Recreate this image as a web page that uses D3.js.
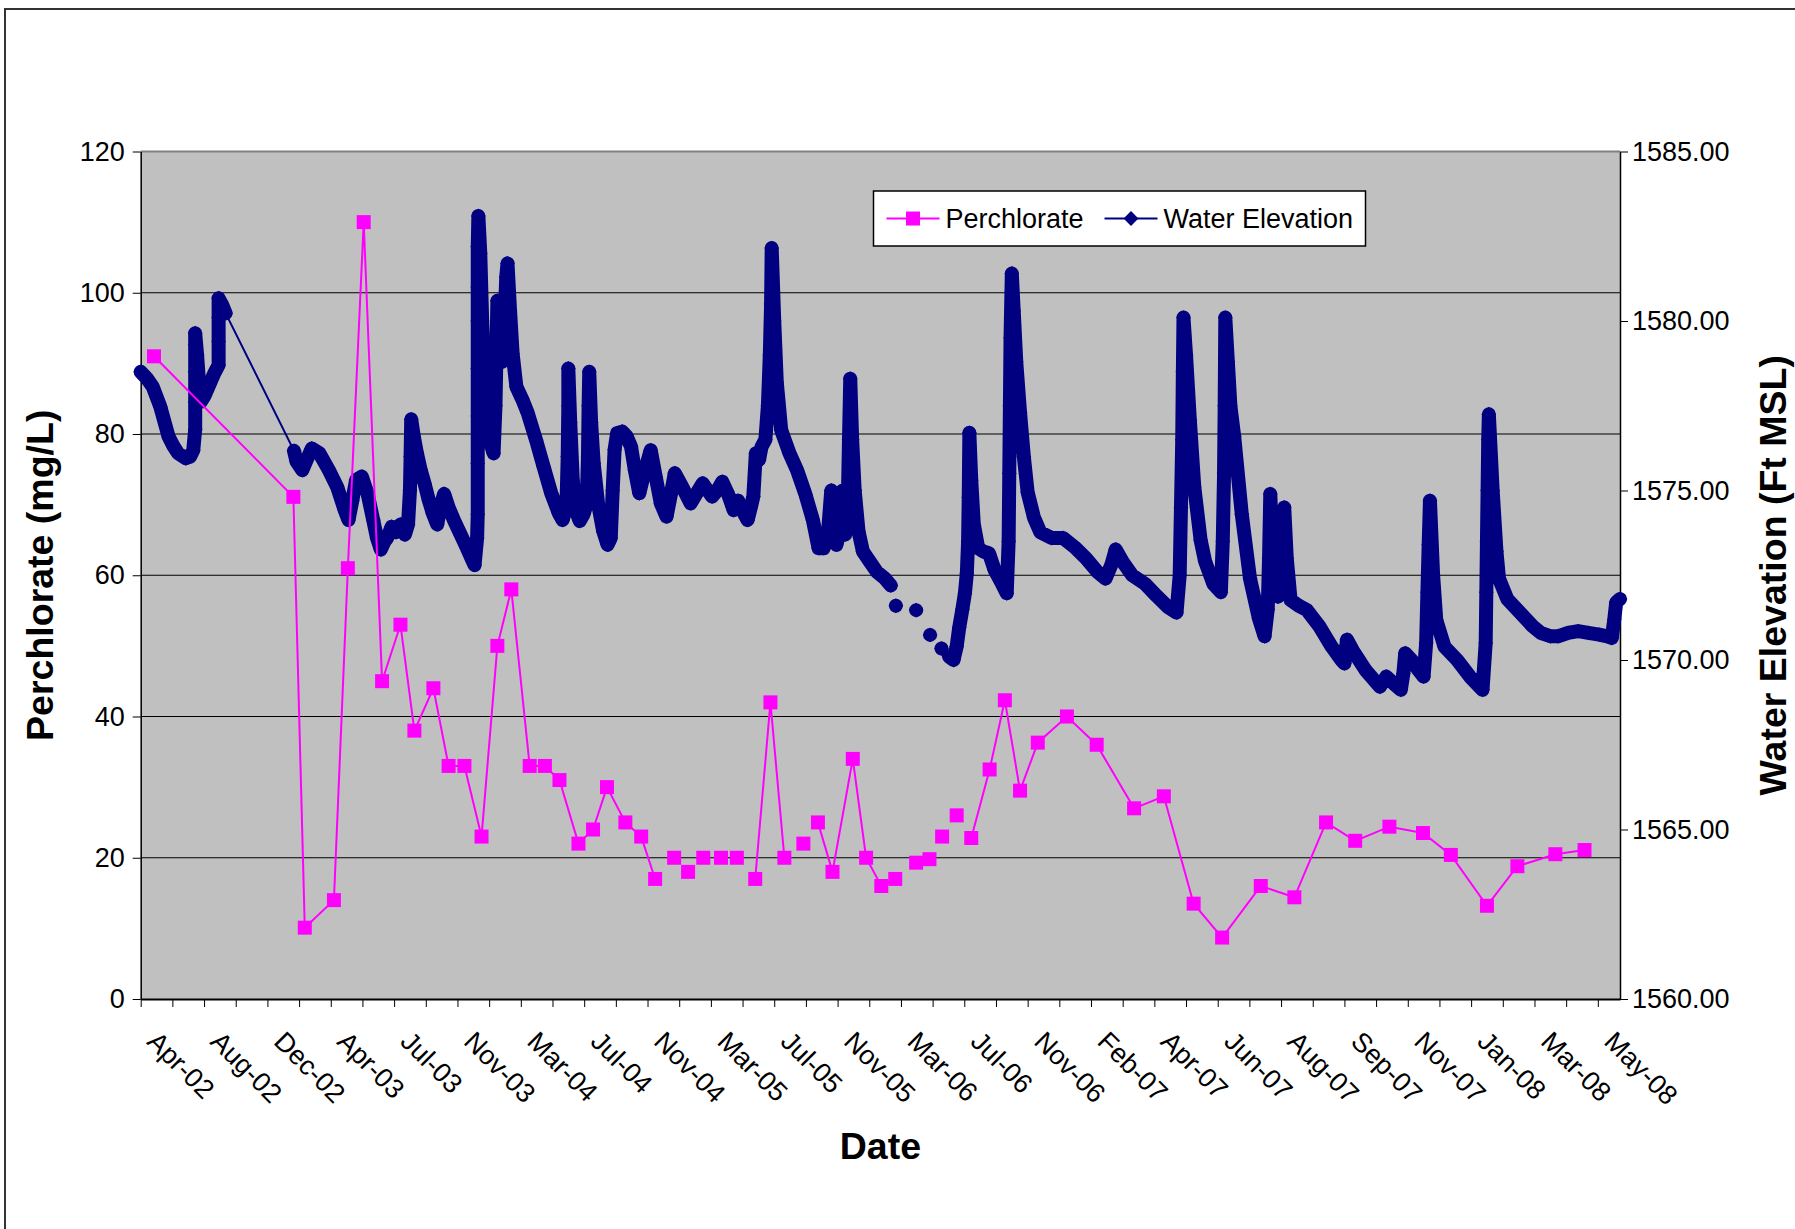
<!DOCTYPE html>
<html lang="en">
<head>
<meta charset="UTF-8" />
<title>Perchlorate and Water Elevation</title>
<script src="https://d3js.org/d3.v7.min.js"></script>
<style>
  body { margin: 0; background: #fff; }
  text { font-family: "Liberation Sans", Arial, sans-serif; }
  .tick text { font-size: 27px; fill: #000; }
  .axis path, .axis line { stroke: #000; }
</style>
</head>
<body>
<script>
// x positions are in label units: 0 = "Apr-02", 1 = "Aug-02", ... (labels sit on every second tick)
const xLabels = ["Apr-02", "Aug-02", "Dec-02", "Apr-03", "Jul-03", "Nov-03", "Mar-04", "Jul-04",
  "Nov-04", "Mar-05", "Jul-05", "Nov-05", "Mar-06", "Jul-06", "Nov-06", "Feb-07", "Apr-07",
  "Jun-07", "Aug-07", "Sep-07", "Nov-07", "Jan-08", "Mar-08", "May-08"];
const xEnd = 23.35;

const leftTicks = [0, 20, 40, 60, 80, 100, 120];
const rightTicks = [1560, 1565, 1570, 1575, 1580, 1585];

// perchlorate (mg/L), null = gap in the line
const perchlorate = [
  [0.21, 91.0], [2.41, 71.1], [2.59, 10.1], [3.05, 14.0], [3.27, 61.0], [3.52, 110.0], [3.81, 45.0],
  [4.10, 53.0], [4.32, 38.0], [4.62, 44.0], [4.86, 33.0], [5.11, 33.0], [5.38, 23.0], [5.63, 50.0],
  [5.85, 58.0], [6.14, 33.0], [6.38, 33.0], [6.61, 31.0], [6.91, 22.0], [7.14, 24.0], [7.36, 30.0],
  [7.65, 25.0], [7.90, 23.0], [8.12, 17.0], null,
  [8.42, 20.0], null, [8.64, 18.0], null, [8.88, 20.0], null, [9.16, 20.0], null, [9.41, 20.0], null,
  [9.70, 17.0], [9.94, 42.0], [10.16, 20.0], null, [10.46, 22.0], null,
  [10.69, 25.0], [10.92, 18.0], [11.24, 34.0], [11.45, 20.0], [11.69, 16.0], [11.91, 17.0], null,
  [12.24, 19.3], null, [12.45, 19.8], null, [12.65, 23.0], null, [12.88, 26.0], null,
  [13.11, 22.8], [13.40, 32.5], [13.64, 42.3], [13.88, 29.5], [14.16, 36.3], [14.62, 40.0],
  [15.09, 36.0], [15.68, 27.0], [16.15, 28.7], [16.62, 13.5], [17.07, 8.7], [17.68, 16.0],
  [18.21, 14.4], [18.71, 25.0], [19.17, 22.4], [19.71, 24.4], [20.24, 23.5], [20.68, 20.4],
  [21.25, 13.2], [21.73, 18.8], [22.33, 20.5], [22.79, 21.1]
];

// water elevation (ft MSL), null = gap in the line
const waterElevation = [
  [0.00, 1578.5], [0.10, 1578.3], [0.19, 1578.06], [0.31, 1577.47], [0.44, 1576.59], [0.52, 1576.3],
  [0.59, 1576.1], [0.71, 1575.95], [0.78, 1576.0], [0.83, 1576.19], [0.86, 1576.8], [0.86, 1577.6],
  [0.86, 1578.5], [0.86, 1579.3], [0.86, 1579.64], [0.89, 1579.0], [0.92, 1578.2], [0.95, 1577.62],
  [1.01, 1577.8], [1.07, 1578.06], [1.16, 1578.45], [1.23, 1578.7], [1.23, 1579.4], [1.23, 1580.1],
  [1.23, 1580.67], [1.28, 1580.5], [1.34, 1580.23],
  [2.42, 1576.17],
  [2.46, 1575.85], [2.55, 1575.6], [2.62, 1575.9], [2.70, 1576.24], [2.82, 1576.1], [2.97, 1575.6],
  [3.10, 1575.11], [3.22, 1574.42], [3.28, 1574.13], [3.34, 1574.7], [3.40, 1575.31], [3.49, 1575.41],
  [3.58, 1574.92], [3.67, 1574.13], [3.73, 1573.6], [3.79, 1573.26], [3.85, 1573.5], [3.89, 1573.6],
  [3.96, 1573.93], [4.03, 1573.77], [4.10, 1574.0], [4.17, 1573.7], [4.22, 1574.0], [4.25, 1575.0],
  [4.26, 1576.0], [4.27, 1577.1], [4.31, 1576.6], [4.36, 1576.1], [4.42, 1575.6], [4.48, 1575.21],
  [4.55, 1574.7], [4.61, 1574.33], [4.68, 1574.0], [4.74, 1574.6], [4.79, 1574.9], [4.86, 1574.5],
  [4.95, 1574.1], [5.05, 1573.7], [5.15, 1573.3], [5.22, 1573.0], [5.27, 1572.8], [5.31, 1573.6],
  [5.32, 1574.3], [5.32, 1575.8], [5.32, 1577.2], [5.32, 1578.6], [5.32, 1580.0], [5.32, 1581.0],
  [5.32, 1582.2], [5.33, 1583.1], [5.36, 1582.0], [5.39, 1580.0], [5.43, 1578.3], [5.47, 1577.1],
  [5.52, 1576.4], [5.57, 1576.1], [5.60, 1577.5], [5.62, 1579.5], [5.63, 1580.6], [5.67, 1579.6],
  [5.71, 1578.8], [5.74, 1579.8], [5.77, 1581.3], [5.79, 1581.7], [5.83, 1580.3], [5.87, 1579.05],
  [5.93, 1578.06], [6.02, 1577.7], [6.11, 1577.28], [6.24, 1576.49], [6.36, 1575.7], [6.48, 1574.92],
  [6.60, 1574.33], [6.66, 1574.13], [6.72, 1574.5], [6.74, 1576.0], [6.75, 1577.5], [6.75, 1578.6],
  [6.78, 1577.0], [6.82, 1575.3], [6.87, 1574.4], [6.93, 1574.1], [6.99, 1574.3], [7.04, 1574.6],
  [7.06, 1576.0], [7.07, 1577.5], [7.08, 1578.5], [7.11, 1577.0], [7.15, 1575.8], [7.22, 1574.6],
  [7.30, 1573.8], [7.37, 1573.4], [7.42, 1573.6], [7.45, 1575.0], [7.48, 1576.2], [7.52, 1576.69],
  [7.60, 1576.74], [7.67, 1576.6], [7.74, 1576.29], [7.80, 1575.6], [7.87, 1574.92], [7.96, 1575.6],
  [8.05, 1576.19], [8.13, 1575.4], [8.21, 1574.62], [8.30, 1574.23], [8.37, 1574.9], [8.43, 1575.51],
  [8.55, 1575.1], [8.68, 1574.62], [8.77, 1574.9], [8.87, 1575.21], [8.95, 1575.0], [9.02, 1574.82],
  [9.10, 1575.0], [9.18, 1575.26], [9.27, 1574.9], [9.36, 1574.42], [9.43, 1574.7], [9.50, 1574.4],
  [9.58, 1574.13], [9.63, 1574.5], [9.67, 1574.82], [9.71, 1576.1], [9.76, 1575.9], [9.80, 1576.29],
  [9.86, 1576.5], [9.90, 1577.5], [9.93, 1579.0], [9.95, 1580.5], [9.96, 1582.15], [10.00, 1580.0],
  [10.04, 1578.2], [10.11, 1576.78], [10.24, 1576.1], [10.36, 1575.6], [10.49, 1574.9], [10.61, 1574.13],
  [10.70, 1573.3], [10.78, 1573.3], [10.85, 1573.8], [10.90, 1575.0], [10.93, 1574.0], [10.98, 1573.4],
  [11.04, 1573.8], [11.08, 1575.0], [11.12, 1573.7], [11.16, 1574.5], [11.18, 1576.5], [11.20, 1578.3],
  [11.23, 1576.5], [11.27, 1575.0], [11.33, 1573.8], [11.40, 1573.2], [11.51, 1572.9], [11.62, 1572.6],
  [11.75, 1572.4], [11.84, 1572.2],
  null, [11.92, 1571.6], null, [12.24, 1571.47], null, [12.46, 1570.74], null, [12.64, 1570.34], null,
  [12.76, 1570.1], [12.83, 1570.0], [12.88, 1570.4], [12.92, 1570.96], [12.97, 1571.5], [13.01, 1571.97],
  [13.04, 1572.56], [13.06, 1573.5], [13.07, 1574.8], [13.08, 1576.7], [13.11, 1575.3], [13.15, 1574.0],
  [13.22, 1573.3], [13.30, 1573.2], [13.39, 1573.15], [13.48, 1572.65], [13.58, 1572.3], [13.67, 1571.97],
  [13.70, 1573.5], [13.71, 1575.5], [13.72, 1577.5], [13.73, 1579.5], [13.75, 1581.4], [13.78, 1580.3],
  [13.82, 1578.8], [13.88, 1577.3], [13.94, 1576.0], [14.00, 1574.95], [14.10, 1574.2], [14.20, 1573.77],
  [14.38, 1573.6], [14.56, 1573.6], [14.74, 1573.33], [14.92, 1573.0], [15.10, 1572.6], [15.23, 1572.4],
  [15.32, 1572.8], [15.39, 1573.26], [15.50, 1572.9], [15.65, 1572.5], [15.85, 1572.25], [16.03, 1571.9],
  [16.21, 1571.57], [16.35, 1571.4], [16.40, 1572.5], [16.42, 1574.5], [16.44, 1576.5], [16.45, 1578.5],
  [16.46, 1580.1], [16.50, 1579.0], [16.56, 1577.08], [16.63, 1575.11], [16.73, 1573.54], [16.80, 1572.92],
  [16.93, 1572.25], [17.05, 1572.0], [17.08, 1573.5], [17.10, 1575.5], [17.11, 1577.5], [17.12, 1580.1],
  [17.16, 1578.8], [17.20, 1577.5], [17.26, 1576.6], [17.38, 1574.3], [17.51, 1572.4], [17.65, 1571.23],
  [17.74, 1570.7], [17.79, 1571.5], [17.81, 1573.0], [17.83, 1574.9], [17.87, 1573.0], [17.92, 1572.0],
  [17.95, 1571.87], [18.00, 1572.5], [18.03, 1573.5], [18.05, 1574.5], [18.09, 1573.0], [18.15, 1571.77],
  [18.28, 1571.6], [18.41, 1571.47], [18.61, 1570.98], [18.80, 1570.39], [18.95, 1570.0], [19.00, 1569.9],
  [19.04, 1570.6], [19.13, 1570.29], [19.33, 1569.71], [19.56, 1569.21], [19.66, 1569.51], [19.78, 1569.3],
  [19.89, 1569.12], [19.93, 1569.6], [19.96, 1570.2], [20.06, 1570.0], [20.17, 1569.7], [20.25, 1569.51],
  [20.29, 1570.5], [20.31, 1572.0], [20.33, 1573.4], [20.35, 1574.7], [20.40, 1572.5], [20.45, 1571.18],
  [20.58, 1570.39], [20.78, 1570.0], [20.98, 1569.51], [21.18, 1569.12], [21.23, 1570.5], [21.24, 1572.0],
  [21.25, 1573.5], [21.26, 1575.0], [21.27, 1576.5], [21.28, 1577.25], [21.34, 1575.0], [21.40, 1573.2],
  [21.44, 1572.4], [21.57, 1571.8], [21.77, 1571.4], [21.97, 1571.0], [22.10, 1570.8], [22.25, 1570.7],
  [22.37, 1570.7], [22.53, 1570.8], [22.69, 1570.85], [22.85, 1570.8], [23.02, 1570.75], [23.15, 1570.7],
  [23.22, 1570.65], [23.26, 1571.2], [23.29, 1571.7], [23.35, 1571.8]
];

const width = 1795;
const height = 1229;
const plot = { left: 140.7, right: 1620, top: 151.5, bottom: 999 };

const x = d3.scaleLinear().domain([0, xEnd]).range([plot.left, plot.right]);
const yLeft = d3.scaleLinear().domain([0, 120]).range([plot.bottom, plot.top]);
const yRight = d3.scaleLinear().domain([1560, 1585]).range([plot.bottom, plot.top]);

const svg = d3.select("body").append("svg")
  .attr("width", width)
  .attr("height", height);

// outer chart frame (runs off the right and bottom edges)
svg.append("rect")
  .attr("x", 5).attr("y", 9)
  .attr("width", width + 20).attr("height", height + 20)
  .attr("fill", "#fff")
  .attr("stroke", "#333").attr("stroke-width", 2);

// plot area
svg.append("rect")
  .attr("x", plot.left).attr("y", plot.top)
  .attr("width", plot.right - plot.left).attr("height", plot.bottom - plot.top)
  .attr("fill", "#c0c0c0");

svg.append("g").selectAll("line")
  .data(leftTicks.filter(d => d > 0 && d < 120))
  .join("line")
  .attr("x1", plot.left).attr("x2", plot.right)
  .attr("y1", d => yLeft(d)).attr("y2", d => yLeft(d))
  .attr("stroke", "#000").attr("stroke-width", 1.2);

svg.append("line")
  .attr("x1", plot.left).attr("x2", plot.right)
  .attr("y1", plot.top).attr("y2", plot.top)
  .attr("stroke", "#808080").attr("stroke-width", 2);

// axes
svg.append("g")
  .attr("class", "axis")
  .attr("transform", `translate(${plot.left},0)`)
  .call(d3.axisLeft(yLeft).tickValues(leftTicks).tickSize(8).tickPadding(8).tickSizeOuter(0))
  .call(g => g.select(".domain").attr("stroke-width", 1.5));

svg.append("g")
  .attr("class", "axis")
  .attr("transform", `translate(${plot.right},0)`)
  .call(d3.axisRight(yRight).tickValues(rightTicks).tickFormat(d3.format(".2f"))
    .tickSize(8).tickPadding(4).tickSizeOuter(0))
  .call(g => g.select(".domain").attr("stroke-width", 1.5));

svg.append("g")
  .attr("class", "axis")
  .attr("transform", `translate(0,${plot.bottom})`)
  .call(d3.axisBottom(x).tickValues(d3.range(0, xEnd, 0.5)).tickSize(8).tickFormat("").tickSizeOuter(0))
  .call(g => g.select(".domain").attr("stroke-width", 2));

// rotated date labels
svg.append("g").selectAll("text")
  .data(xLabels)
  .join("text")
  .attr("transform", (d, i) => `translate(${x(i) + 5},${plot.bottom + 44}) rotate(45)`)
  .attr("font-size", 27)
  .text(d => d);

// axis titles
svg.append("text")
  .attr("x", (plot.left + plot.right) / 2).attr("y", 1159)
  .attr("text-anchor", "middle")
  .attr("font-size", 37.5).attr("font-weight", "bold")
  .text("Date");

svg.append("text")
  .attr("transform", `translate(53,${(plot.top + plot.bottom) / 2}) rotate(-90)`)
  .attr("text-anchor", "middle")
  .attr("font-size", 37.5).attr("font-weight", "bold")
  .text("Perchlorate (mg/L)");

svg.append("text")
  .attr("transform", `translate(1786,${(plot.top + plot.bottom) / 2}) rotate(-90)`)
  .attr("text-anchor", "middle")
  .attr("font-size", 37.5).attr("font-weight", "bold")
  .text("Water Elevation (Ft MSL)");

// water elevation: thin line, dense runs of markers read as a thick band, then markers
const navy = "#000080";
const pink = "#ff00ff";

const lineW = d3.line()
  .defined(d => d !== null)
  .x(d => x(d[0]))
  .y(d => yRight(d[1]));

// break the band where consecutive readings are far apart
const band = [];
waterElevation.forEach((d, i) => {
  const prev = waterElevation[i - 1];
  if (d && prev && d[0] - prev[0] > 0.3) band.push(null);
  band.push(d);
});

svg.append("path")
  .datum(waterElevation)
  .attr("d", lineW)
  .attr("fill", "none").attr("stroke", navy).attr("stroke-width", 2);

svg.append("path")
  .datum(band)
  .attr("d", lineW)
  .attr("fill", "none").attr("stroke", navy).attr("stroke-width", 14)
  .attr("stroke-linejoin", "round").attr("stroke-linecap", "round");

const diamond = d3.symbol(d3.symbolSquare, 110);
svg.append("g").selectAll("path")
  .data(waterElevation.filter(d => d !== null))
  .join("path")
  .attr("transform", d => `translate(${x(d[0])},${yRight(d[1])}) rotate(45)`)
  .attr("d", diamond)
  .attr("fill", navy);

// perchlorate
const lineP = d3.line()
  .defined(d => d !== null)
  .x(d => x(d[0]))
  .y(d => yLeft(d[1]));

svg.append("path")
  .datum(perchlorate)
  .attr("d", lineP)
  .attr("fill", "none").attr("stroke", pink).attr("stroke-width", 2);

const square = d3.symbol(d3.symbolSquare, 196);
svg.append("g").selectAll("path")
  .data(perchlorate.filter(d => d !== null))
  .join("path")
  .attr("transform", d => `translate(${x(d[0])},${yLeft(d[1])})`)
  .attr("d", square)
  .attr("fill", pink);

// legend
const legend = svg.append("g").attr("transform", "translate(873.5,191)");
legend.append("rect")
  .attr("width", 492).attr("height", 55)
  .attr("fill", "#fff").attr("stroke", "#000").attr("stroke-width", 1.5);

const legendItems = [
  { name: "Perchlorate", color: pink, symbol: square, rot: 0, x0: 13 },
  { name: "Water Elevation", color: navy, symbol: diamond, rot: 45, x0: 231 }
];
const li = legend.selectAll("g.item")
  .data(legendItems)
  .join("g")
  .attr("class", "item")
  .attr("transform", d => `translate(${d.x0},27.5)`);
li.append("line")
  .attr("x1", 0).attr("x2", 53)
  .attr("stroke", d => d.color).attr("stroke-width", 2);
li.append("path")
  .attr("transform", d => `translate(26.5,0) rotate(${d.rot})`)
  .attr("d", d => d.symbol())
  .attr("fill", d => d.color);
li.append("text")
  .attr("x", 59).attr("y", 9.5)
  .attr("font-size", 27)
  .text(d => d.name);
</script>
</body>
</html>
